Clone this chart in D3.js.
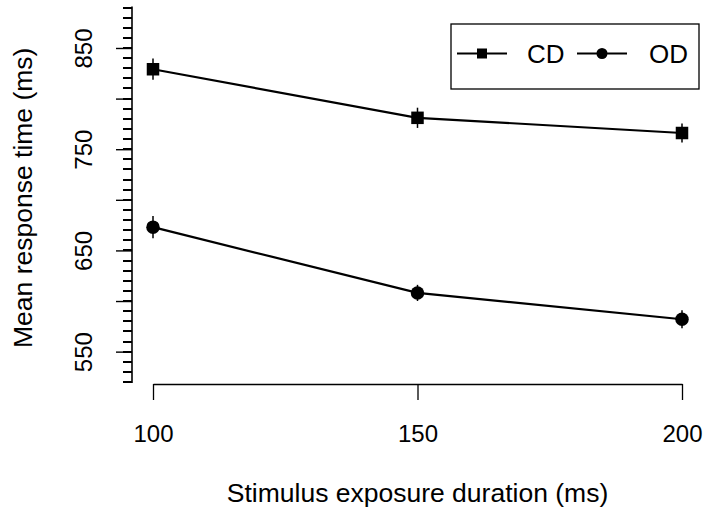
<!DOCTYPE html>
<html lang="en">
<head>
<meta charset="utf-8">
<title>Mean response time by exposure duration</title>
<style>
body{
  margin: 0;
  background: #fff;
}
#chart text{
  font-family: "Liberation Sans", Arial, Helvetica, sans-serif;
  fill: #000;
}
.axis path, .axis line{
  fill: none;
  stroke: #000;
}
</style>
<script src="https://cdn.jsdelivr.net/npm/d3@7"></script>
</head>
<body>
<div id="chart"></div>
<script>

/* values */
var durations = [100, 150, 200];
var cdMeans = [829, 781, 766];
var cdErr = [10.5, 10, 9.5];
var odMeans = [673, 608, 582];
var odErr = [11, 8, 9];
var seriesNames = ['CD', 'OD'];
var yMajorTicks = [550, 600, 650, 700, 750, 800, 850];
var yLabelTicks = [550, 650, 750, 850];
var yMinorTicks = d3.range(520, 891, 10);

var width = 705, height = 513;

var svg = d3.select('#chart')
  .append('svg')
  .attr('width', width)
  .attr('height', height);

var x = d3.scaleLinear()
  .domain([100, 200])
  .range([153, 682]);

var y = d3.scaleLinear()
  .domain([520, 890])
  .range([382, 7.5]);

var axisX = 132, axisY = 384;

/* y axis: minor ticks every 10, major every 50, labels every 100 */
var yAxisG = svg.append('g').attr('class', 'axis');

yAxisG.selectAll('.minor')
  .data(yMinorTicks)
  .enter()
  .append('line')
  .attr('class', 'minor')
  .attr('x1', axisX - 9).attr('x2', axisX)
  .attr('y1', d => Math.round(y(d)))
  .attr('y2', d => Math.round(y(d)))
  .style('stroke', '#000')
  .style('stroke-width', 2);

yAxisG.append('line')
  .attr('x1', axisX).attr('x2', axisX)
  .attr('y1', y(520) + 1).attr('y2', y(890) - 1)
  .style('stroke-width', 1.6);

var yMajor = svg.append('g')
  .attr('class', 'axis')
  .attr('transform', 'translate(' + axisX + ',0)')
  .call(d3.axisLeft(y).tickValues(yMajorTicks).tickSize(16).tickSizeOuter(0)
    .tickFormat(d => yLabelTicks.indexOf(d) >= 0 ? d : ''));
yMajor.select('.domain').remove();
yMajor.selectAll('line').style('stroke-width', 1.4);
yMajor.selectAll('text')
  .attr('x', null).attr('dy', null)
  .style('font-size', '24px')
  .attr('text-anchor', 'middle')
  .attr('transform', 'translate(-40,0) rotate(-90)');

/* x axis */
var xAxis = svg.append('g')
  .attr('class', 'axis')
  .attr('transform', 'translate(0,' + axisY + ')')
  .call(d3.axisBottom(x).tickValues(durations).tickSize(16).tickSizeOuter(0));
xAxis.selectAll('line').style('stroke-width', 1.3);
xAxis.select('.domain').style('stroke-width', 1.3);
xAxis.selectAll('text')
  .attr('y', 58).attr('dy', null)
  .style('font-size', '24px');

/* axis titles */
svg.append('text')
  .attr('x', x(150))
  .attr('y', 502)
  .attr('text-anchor', 'middle')
  .style('font-size', '26.5px')
  .text('Stimulus exposure duration (ms)');

svg.append('text')
  .attr('transform', 'translate(32,' + y(702) + ') rotate(-90)')
  .attr('text-anchor', 'middle')
  .style('font-size', '26.5px')
  .text('Mean response time (ms)');

/* series */
var series = [
  {name: seriesNames[0], means: cdMeans, err: cdErr, shape: 'square'},
  {name: seriesNames[1], means: odMeans, err: odErr, shape: 'circle'}
];

var line = d3.line()
  .x((d, i) => x(durations[i]))
  .y(d => y(d));

function drawMarker(g, shape, cx, cy, size) {
  if (shape === 'square') {
    g.append('rect')
      .attr('x', cx - size / 2).attr('y', cy - size / 2)
      .attr('width', size).attr('height', size)
      .attr('fill', '#000');
  } else {
    g.append('circle')
      .attr('cx', cx).attr('cy', cy)
      .attr('r', size / 2 + 0.5)
      .attr('fill', '#000');
  }
}

series.forEach(function(s) {
  var g = svg.append('g');
  g.append('path')
    .datum(s.means)
    .attr('d', line)
    .attr('fill', 'none')
    .attr('stroke', '#000')
    .attr('stroke-width', 2.2);

  s.means.forEach(function(m, i) {
    g.append('line')
      .attr('x1', x(durations[i])).attr('x2', x(durations[i]))
      .attr('y1', y(m - s.err[i])).attr('y2', y(m + s.err[i]))
      .attr('stroke', '#000')
      .attr('stroke-width', 1.5);
    drawMarker(g, s.shape, x(durations[i]), y(m), 12.5);
  });
});

/* legend */
var legend = svg.append('g');
legend.append('rect')
  .attr('x', 451).attr('y', 24)
  .attr('width', 248).attr('height', 65)
  .attr('fill', '#fff')
  .attr('stroke', '#000')
  .attr('stroke-width', 1.3);

var legendItems = [
  {name: seriesNames[0], shape: 'square', x1: 457, x2: 507, tx: 527},
  {name: seriesNames[1], shape: 'circle', x1: 577, x2: 627, tx: 649}
];
legendItems.forEach(function(it) {
  legend.append('line')
    .attr('x1', it.x1).attr('x2', it.x2)
    .attr('y1', 53.5).attr('y2', 53.5)
    .attr('stroke', '#000')
    .attr('stroke-width', 2.2);
  drawMarker(legend, it.shape, (it.x1 + it.x2) / 2, 53.5, 10);
  legend.append('text')
    .attr('x', it.tx)
    .attr('y', 63)
    .style('font-size', '26px')
    .text(it.name);
});

</script>
</body>
</html>
